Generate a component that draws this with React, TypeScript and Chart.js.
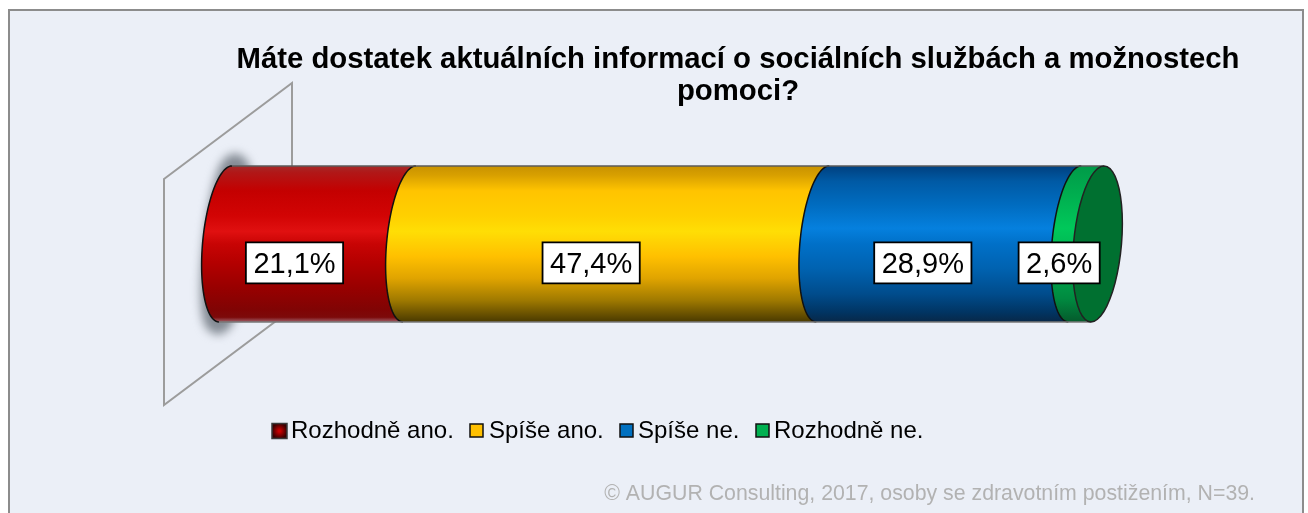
import React, { useEffect, useRef } from "react";
import { Chart, registerables } from "chart.js";

Chart.register(...registerables);

const titleLines = [
  "Máte dostatek aktuálních informací o sociálních službách a možnostech",
  "pomoci?",
];
const categories = ["Informovanost"];
const seriesLabels = ["Rozhodně ano.", "Spíše ano.", "Spíše ne.", "Rozhodně ne."];
const seriesValues = [21.1, 47.4, 28.9, 2.6];
const seriesColors = ["#cc0000", "#ffc000", "#0070c0", "#00b050"];
const credit = "© AUGUR Consulting, 2017, osoby se zdravotním postižením, N=39.";

const W = 1308;
const H = 513;
const FONT = '"Liberation Sans", Arial, sans-serif';
const PANEL_BG = "#ebeff7";

// colour stops of the lit cylinder, top to bottom
type Stop = [number, string];
const shading: Stop[][] = [
  [[0, "#a52a2a"], [0.04, "#b01818"], [0.16, "#c40000"], [0.32, "#d20404"], [0.42, "#e01010"], [0.5, "#c80404"], [0.62, "#b40000"], [0.78, "#980000"], [0.92, "#800404"], [0.97, "#7c0a0a"], [1, "#a0606a"]],
  [[0, "#c89200"], [0.06, "#d8a000"], [0.16, "#ffc400"], [0.32, "#ffd000"], [0.42, "#ffde05"], [0.58, "#ffc000"], [0.72, "#e0a400"], [0.86, "#a07a00"], [1, "#4a3a00"]],
  [[0, "#00407f"], [0.1, "#005aa5"], [0.25, "#006cc0"], [0.4, "#0580de"], [0.5, "#0070c8"], [0.66, "#0062b0"], [0.82, "#004c8c"], [0.94, "#013462"], [1, "#082848"]],
  [[0, "#009a48"], [0.2, "#00b050"], [0.4, "#00c85a"], [0.6, "#00b050"], [0.85, "#008a40"], [1, "#055a2c"]],
];
const capColor = "#007030";
const labelShift = [-23, -25, -26, -27];

function ellipsePoints(cx: number, cy: number, a: number, b: number, dx: number, from: number, to: number) {
  const pts: [number, number][] = [];
  const n = 48;
  for (let i = 0; i <= n; i++) {
    const t = from + ((to - from) * i) / n;
    pts.push([cx + a * Math.cos(t) - dx * Math.sin(t), cy + b * Math.sin(t)]);
  }
  return pts;
}

function trace(ctx: CanvasRenderingContext2D, pts: [number, number][], move = true) {
  pts.forEach(([x, y], i) => {
    if (i === 0 && move) ctx.moveTo(x, y);
    else ctx.lineTo(x, y);
  });
}

const A = 23;
const DX = 6.5;
const PI = Math.PI;

const cylinderPlugin = {
  id: "cylinder",
  beforeDraw(chart: any) {
    const ctx: CanvasRenderingContext2D = chart.ctx;
    ctx.save();
    ctx.fillStyle = "#ffffff";
    ctx.fillRect(0, 0, W, H);
    ctx.fillStyle = PANEL_BG;
    ctx.strokeStyle = "#8c8c8c";
    ctx.lineWidth = 2;
    ctx.beginPath();
    ctx.rect(9, 10, 1294, H + 20);
    ctx.fill();
    ctx.stroke();
    ctx.restore();
  },
  beforeDatasetsDraw(chart: any) {
    const ctx: CanvasRenderingContext2D = chart.ctx;
    const els = chart.data.datasets.map((_: any, i: number) =>
      chart.getDatasetMeta(i).data[0].getProps(["x", "y", "base", "height"], true)
    );
    const cy = els[0].y;
    const b = els[0].height / 2;
    const top = cy - b;
    const bottom = cy + b;
    const startX = els[0].base;
    const endX = els[els.length - 1].x;

    // wall behind the cylinder
    ctx.save();
    ctx.strokeStyle = "#9c9c9c";
    ctx.lineWidth = 2;
    ctx.beginPath();
    ctx.moveTo(startX - 61.5, cy - 65);
    ctx.lineTo(startX + 66.5, cy - 161);
    ctx.lineTo(startX + 66.5, cy + 65);
    ctx.lineTo(startX - 61.5, cy + 161);
    ctx.closePath();
    ctx.stroke();
    ctx.restore();

    // soft shadow on the wall
    ctx.save();
    ctx.filter = "blur(5px)";
    ctx.fillStyle = "#858c95";
    ctx.strokeStyle = "#858c95";
    ctx.lineWidth = 24;
    ctx.beginPath();
    trace(ctx, ellipsePoints(startX + 1, cy, A - 12, b, DX + 2, 0, 2 * PI));
    ctx.closePath();
    ctx.fill();
    ctx.stroke();
    ctx.restore();

    // segments
    els.forEach((el: any, i: number) => {
      const grad = ctx.createLinearGradient(0, top, 0, bottom);
      shading[i].forEach(([o, c]) => grad.addColorStop(o, c));
      ctx.save();
      ctx.fillStyle = grad;
      ctx.beginPath();
      trace(ctx, ellipsePoints(el.base, cy, A, b, DX, -PI / 2, -(3 * PI) / 2));
      trace(ctx, ellipsePoints(el.x, cy, A, b, DX, PI / 2, -PI / 2), false);
      ctx.closePath();
      ctx.fill();
      ctx.strokeStyle = "#111111";
      ctx.lineWidth = 1.5;
      ctx.beginPath();
      trace(ctx, ellipsePoints(el.base, cy, A, b, DX, -PI / 2, -(3 * PI) / 2));
      ctx.stroke();
      ctx.restore();
    });

    // long edges
    ctx.save();
    ctx.lineWidth = 1.5;
    ctx.strokeStyle = "#5a5a5a";
    ctx.beginPath();
    ctx.moveTo(startX + DX, top);
    ctx.lineTo(endX + DX, top);
    ctx.stroke();
    ctx.strokeStyle = "#777777";
    ctx.beginPath();
    ctx.moveTo(startX - DX, bottom);
    ctx.lineTo(endX - DX, bottom);
    ctx.stroke();

    // end cap
    ctx.fillStyle = capColor;
    ctx.strokeStyle = "#222222";
    ctx.beginPath();
    trace(ctx, ellipsePoints(endX, cy, A + 1, b, DX, 0, 2 * PI));
    ctx.closePath();
    ctx.fill();
    ctx.stroke();
    ctx.restore();
  },
  beforeDatasetDraw() {
    return false;
  },
  afterDraw(chart: any) {
    const ctx: CanvasRenderingContext2D = chart.ctx;
    ctx.save();

    // value labels
    ctx.font = `29px ${FONT}`;
    ctx.textAlign = "center";
    ctx.textBaseline = "alphabetic";
    chart.data.datasets.forEach((ds: any, i: number) => {
      const el = chart.getDatasetMeta(i).data[0].getProps(["x", "y", "base"], true);
      const text = ds.data[0].toFixed(1).replace(".", ",") + "%";
      const cx = (el.x + el.base) / 2 + labelShift[i];
      const cy = el.y + 19;
      const w = ctx.measureText(text).width + 15;
      ctx.fillStyle = "#ffffff";
      ctx.strokeStyle = "#000000";
      ctx.lineWidth = 1.8;
      ctx.beginPath();
      ctx.rect(cx - w / 2, cy - 20.5, w, 41);
      ctx.fill();
      ctx.stroke();
      ctx.fillStyle = "#000000";
      ctx.fillText(text, cx, cy + 10.5);
    });

    // legend
    const legendY = 438;
    const swatchX = [272, 470, 620, 756];
    const textX = [291, 489, 638, 774];
    ctx.font = `24px ${FONT}`;
    ctx.textAlign = "left";
    chart.data.datasets.forEach((ds: any, i: number) => {
      const x = swatchX[i];
      const size = i === 0 ? 15 : 13;
      const y = i === 0 ? 423.5 : 424;
      if (i === 0) {
        const g = ctx.createRadialGradient(x + size / 2, y + size / 2, 1, x + size / 2, y + size / 2, size / 2);
        g.addColorStop(0, "#c80000");
        g.addColorStop(1, "#3c0000");
        ctx.fillStyle = g;
      } else {
        ctx.fillStyle = ds.backgroundColor;
      }
      ctx.strokeStyle = i === 0 ? "#3a3a3a" : "#111111";
      ctx.lineWidth = 1.5;
      ctx.beginPath();
      ctx.rect(x, y, size, size);
      ctx.fill();
      ctx.stroke();
      ctx.fillStyle = "#000000";
      ctx.fillText(ds.label, textX[i], legendY);
    });

    // credit
    ctx.font = `21.3px ${FONT}`;
    ctx.fillStyle = "#b2b2b2";
    ctx.textAlign = "right";
    ctx.fillText(credit, 1255, 500);
    ctx.restore();
  },
};

// the plot's horizontal geometry: 0 % sits at x=225.5, 100 % at x=1097.5
const AREA_LEFT = 168;
const PX_PER_UNIT = 8.72;
const X_MIN = -(225.5 - AREA_LEFT) / PX_PER_UNIT;
const X_MAX = X_MIN + (W - AREA_LEFT) / PX_PER_UNIT;

export default function App() {
  const ref = useRef<HTMLCanvasElement>(null);
  useEffect(() => {
    const chart = new Chart(ref.current as HTMLCanvasElement, {
      type: "bar",
      data: {
        labels: categories,
        datasets: seriesLabels.map((label, i) => ({
          label,
          data: [seriesValues[i]],
          backgroundColor: seriesColors[i],
          barThickness: 156,
          stack: "s",
        })),
      },
      options: {
        indexAxis: "y",
        responsive: false,
        animation: false,
        events: [],
        layout: { padding: { left: AREA_LEFT, right: 0, top: 0, bottom: 133 } },
        scales: {
          x: { stacked: true, min: X_MIN, max: X_MAX, display: false },
          y: { stacked: true, display: false },
        },
        plugins: {
          legend: { display: false },
          tooltip: { enabled: false },
          title: {
            display: true,
            text: titleLines,
            color: "#000000",
            font: { family: FONT, size: 29.3, weight: "bold", lineHeight: 1.09 },
            padding: { top: 44, bottom: 0 },
          },
        },
      } as any,
      plugins: [cylinderPlugin as any],
    });
    return () => chart.destroy();
  }, []);
  return (
    <canvas
      ref={ref}
      width={W}
      height={H}
      style={{ position: "fixed", left: 0, top: 0, width: W, height: H, display: "block" }}
    />
  );
}
